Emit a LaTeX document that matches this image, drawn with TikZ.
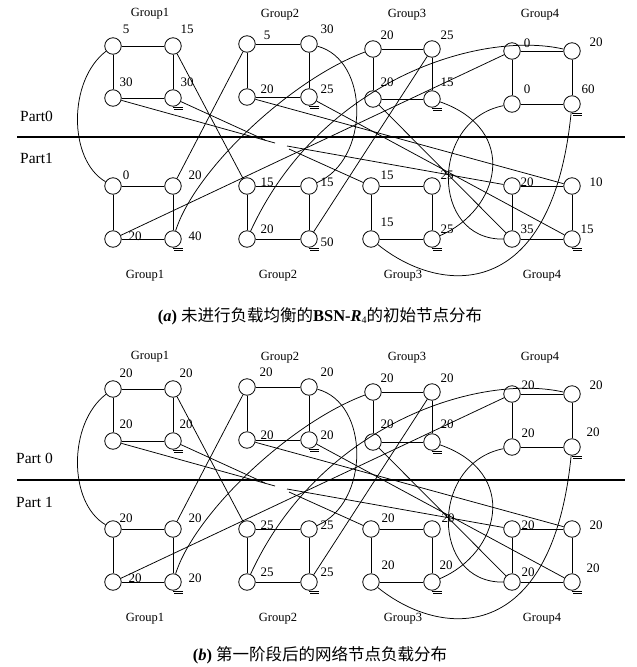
\documentclass[tikz,border=0pt]{standalone}
\usepackage{fontspec}
\setmainfont{Liberation Serif}
\newfontfamily\cjk{Noto Sans CJK SC}
\usetikzlibrary{calc}

% one 2x2 group: corners a (top left), b, c, d (bottom right, with its ground mark)
\newcommand\bsngroup[5]{%
  \node[nd] (#1a) at (#2,#4) {};
  \node[nd] (#1b) at (#3,#4) {};
  \node[nd] (#1c) at (#2,#5) {};
  \node[nd] (#1d) at (#3,#5) {};
  \draw[edge] (#1a) -- (#1b) (#1a) -- (#1c) (#1b) -- (#1d) (#1c) -- (#1d);
  \draw[line width=0.7pt] ($(#1d.south)+(0,0.6)$) -- ++(10,0);
  \draw[line width=0.7pt] ($(#1d.south)+(1,2.2)$) -- ++(9,0);
}

% one network drawing: two parts of four groups each, and the links between them
\newcommand\bsnpanel[2]{%
\begin{scope}[shift={(0,#2)}]
  \bsngroup{#1g1}{113}{173}{46}{98}
  \bsngroup{#1g2}{247}{309}{44}{97}
  \bsngroup{#1g3}{373}{432}{49}{99}
  \bsngroup{#1g4}{512}{572}{51}{104}
  \bsngroup{#1h1}{113}{173}{186}{239}
  \bsngroup{#1h2}{247}{309}{186}{239}
  \bsngroup{#1h3}{371}{432}{186}{239}
  \bsngroup{#1h4}{512}{572}{186}{239}
  \node[grp] at (150,14) {Group1};
  \node[grp] at (280,15) {Group2};
  \node[grp] at (407,15) {Group3};
  \node[grp] at (540,15) {Group4};
  \node[grp] at (145,276) {Group1};
  \node[grp] at (278,276) {Group2};
  \node[grp] at (403,276) {Group3};
  \node[grp] at (542,276) {Group4};
  \coordinate (#1s1) at (275,143);
  \coordinate (#1s2) at (265,140);
  \coordinate (#1s3) at (287,146);
  \coordinate (#1s4) at (289,149);
  \draw[edge] (#1g1a) .. controls (68,80) and (68,160) .. (#1h1a);
  \draw[edge] (#1g1b) -- (#1h2a);
  \draw[edge] (#1g2a) -- (#1h1b);
  \draw[edge] (#1g3a) .. controls (290,80) and (195,170) .. (#1h1d);
  \draw[edge] (#1g1c) -- (#1s1);
  \draw[edge] (#1g1d) -- (#1s2);
  \draw[edge] (#1s3) -- (#1h4a);
  \draw[edge] (#1s4) -- (#1h3a);
  \draw[edge] (#1g2b) .. controls (370,60) and (370,160) .. (#1h2b);
  \draw[edge] (#1g3b) -- (#1h2d);
  \draw[edge] (#1g4b) .. controls (480,30) and (320,80) .. (#1h2c);
  \draw[edge] (#1g3c) -- (#1h4c);
  \draw[edge] (#1g3d) .. controls (520,130) and (500,210) .. (#1h3d);
  \draw[edge] (#1g4c) .. controls (430,120) and (430,240) .. (#1h4c);
  \draw[edge] (#1g4d) .. controls (552,305) and (440,295) .. (#1h3c);
  \draw[edge] (#1g4a) -- (#1h1c);
  \draw[edge] (#1g2c) -- (#1h4b);
  \draw[edge] (#1g2d) -- (#1h4d);
  \draw[line width=1.8pt] (17,137) -- (625,137);
\end{scope}}

\begin{document}
\begin{tikzpicture}[x=1pt,y=-1pt,
  nd/.style={circle,draw,line width=0.8pt,minimum size=16.5pt,inner sep=0pt},
  edge/.style={line width=0.75pt},
  num/.style={font=\fontsize{13}{13}\selectfont,inner sep=0pt},
  grp/.style={font=\fontsize{12.5}{12.5}\selectfont,inner sep=0pt},
  part/.style={font=\fontsize{15.5}{15.5}\selectfont,inner sep=0pt,anchor=west},
  captext/.style={font=\fontsize{16.5}{16.5}\selectfont,inner sep=0pt}]
\useasboundingbox (0,0) rectangle (637,667);
\fill[white] (0,0) rectangle (637,667);

% (a) initial distribution
\bsnpanel{a}{0}
\node[part] at (20,116) {Part0};
\node[part] at (20,158) {Part1};
\foreach \n/\dx/\dy/\t in {
  g1a/13/-17/5, g1b/14/-17/15, g1c/13/-16/30, g1d/14/-16/30,
  g2a/20/-9/5, g2b/18/-15/30, g2c/20/-8/20, g2d/18/-8/25,
  g3a/14/-14/20, g3b/15/-14/25, g3c/14/-17/20, g3d/15/-17/15,
  g4a/15/-8/0, g4b/24/-9/20, g4c/15/-15/0, g4d/16/-15/60,
  h1a/13/-11/0, h1b/22/-11/20, h1c/22/-3/20, h1d/22/-3/40,
  h2a/20/-4/15, h2b/18/-4/15, h2c/20/-10/20, h2d/18/3/50,
  h3a/16/-11/15, h3b/15/-11/25, h3c/16/-17/15, h3d/15/-10/25,
  h4a/15/-4/20, h4b/24/-4/10, h4c/15/-10/35, h4d/15/-10/15}
  \node[num] at ([shift={(\dx,\dy)}]a\n.center) {\t};
\node[captext] at (320,316) {\textbf{(\textit{a})} {\cjk 未进行负载均衡的}\textbf{BSN-\textit{R}}\raisebox{-0.35ex}{\fontsize{10}{10}\selectfont 4}{\cjk 的初始节点分布}};

% (b) after the first stage
\bsnpanel{b}{343}
\node[part] at (16,458) {Part 0};
\node[part] at (16,502) {Part 1};
\foreach \n/\dx/\dy/\t in {
  g1a/13/-16/20, g1b/13/-16/20, g1c/13/-17/20, g1d/13/-17/20,
  g2a/19/-15/20, g2b/18/-15/20, g2c/20/-5/20, g2d/18/-5/20,
  g3a/14/-14/20, g3b/15/-14/20, g3c/14/-18/20, g3d/15/-18/20,
  g4a/16/-9/20, g4b/24/-9/20, g4c/16/-14/20, g4d/21/-15/20,
  h1a/13/-11/20, h1b/22/-11/20, h1c/22/-4/20, h1d/22/-4/20,
  h2a/20/-4/25, h2b/18/-4/25, h2c/20/-10/25, h2d/18/-10/25,
  h3a/17/-11/20, h3b/16/-11/20, h3c/17/-17/20, h3d/14/-17/20,
  h4a/16/-4/20, h4b/24/-4/20, h4c/16/-10/20, h4d/21/-14/20}
  \node[num] at ([shift={(\dx,\dy)}]b\n.center) {\t};
\node[captext] at (320,655) {\textbf{(\textit{b})} {\cjk 第一阶段后的网络节点负载分布}};
\end{tikzpicture}
\end{document}
